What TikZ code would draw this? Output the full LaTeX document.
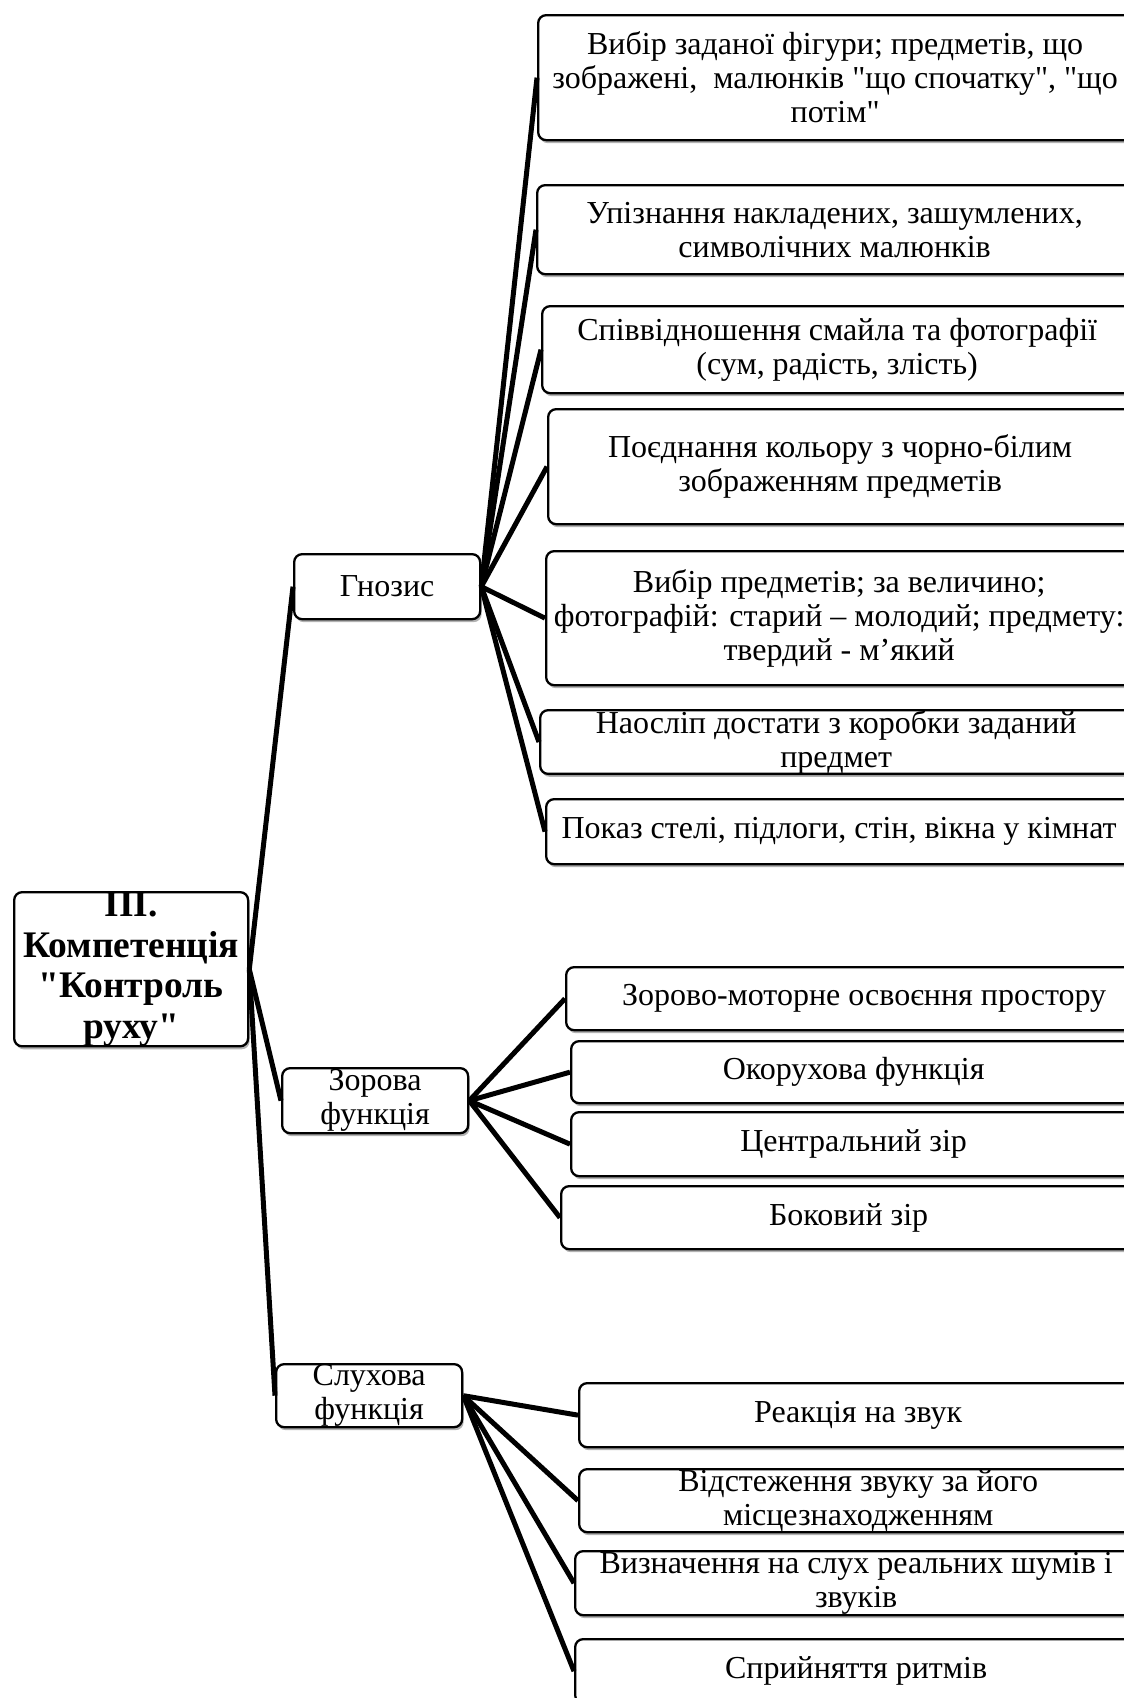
\documentclass[tikz,border=0pt]{standalone}
\usepackage{fontspec}
\setmainfont{Liberation Serif}[Ligatures=TeXOff]
\usetikzlibrary{shadows}
\tikzset{
  box/.style={draw=black, line width=2.3pt, rounded corners=8pt, fill=white,
    inner sep=0pt, align=center, anchor=north west,
    font=\fontsize{32}{34}\selectfont,
    drop shadow={shadow xshift=1.5pt, shadow yshift=-3pt, fill=black, opacity=0.3}},
  rootbox/.style={box, font=\fontsize{37.5}{40.5}\selectfont\bfseries},
  link/.style={line width=5pt, black}
}
\begin{document}
\begin{tikzpicture}[x=1pt,y=1pt]
\fill[white] (0,0) rectangle (1124,-1698);
\useasboundingbox (0,0) rectangle (1124,-1698);
% root and middle level
\node[rootbox, minimum width=234, minimum height=151] (root) at (13,-891) {III.\\Компетенція\\"Контроль\\руху"};
\node[box, minimum width=186, minimum height=65] (gn) at (293,-553) {Гнозис};
\node[box, minimum width=186, minimum height=65] (zf) at (281,-1067) {Зорова\\функція};
\node[box, minimum width=186, minimum height=63] (sf) at (275,-1363) {Слухова\\функція};
% Gnosis children
\node[box, minimum width=594, minimum height=125] (g1) at (537,-14) {Вибір заданої фігури; предметів, що\\зображені,\ \ малюнків "що спочатку", "що\\потім"};
\node[box, minimum width=595, minimum height=89] (g2) at (536,-184) {Упізнання накладених, зашумлених,\\символічних малюнків};
\node[box, minimum width=590, minimum height=87] (g3) at (541,-305) {Співвідношення смайла та фотографії\\(сум, радість, злість)};
\node[box, minimum width=584, minimum height=115] (g4) at (547,-408) {Поєднання кольору з чорно-білим\\зображенням предметів};
\node[box, minimum width=586, minimum height=134] (g5) at (545,-550) {Вибір предметів; за величино;\\фотографій: старий – молодий; предмету:\\твердий - м’який};
\node[box, minimum width=592, minimum height=63] (g6) at (539,-709) {Наосліп достати з коробки заданий\\предмет};
\node[box, minimum width=586, minimum height=65] (g7) at (545,-798) {Показ стелі, підлоги, стін, вікна у кімнат};
% Zorova children
\node[box, minimum width=570, minimum height=63] (z1) at (565,-966) {\hspace*{26pt}Зорово-моторне освоєння простору};
\node[box, minimum width=565, minimum height=62] (z2) at (570,-1040) {Окорухова функція};
\node[box, minimum width=565, minimum height=64] (z3) at (570,-1111) {Центральний зір};
\node[box, minimum width=575, minimum height=63] (z4) at (560,-1185) {Боковий зір};
% Slukhova children
\node[box, minimum width=558, minimum height=64] (s1) at (578,-1382) {Реакція на звук};
\node[box, minimum width=558, minimum height=63] (s2) at (578,-1468) {Відстеження звуку за його\\місцезнаходженням};
\node[box, minimum width=562, minimum height=64] (s3) at (574,-1550) {Визначення на слух реальних шумів і\\звуків};
\node[box, minimum width=562, minimum height=64] (s4) at (574,-1638) {Сприйняття ритмів};
% connectors
\foreach \t in {gn,zf,sf} \draw[link] (root.east) -- (\t.west);
\foreach \t in {g1,g2,g3,g4,g5,g6,g7} \draw[link] (gn.east) -- (\t.west);
\foreach \t in {z1,z2,z3,z4} \draw[link] (zf.east) -- (\t.west);
\foreach \t in {s1,s2,s3,s4} \draw[link] (sf.east) -- (\t.west);
\end{tikzpicture}
\end{document}
